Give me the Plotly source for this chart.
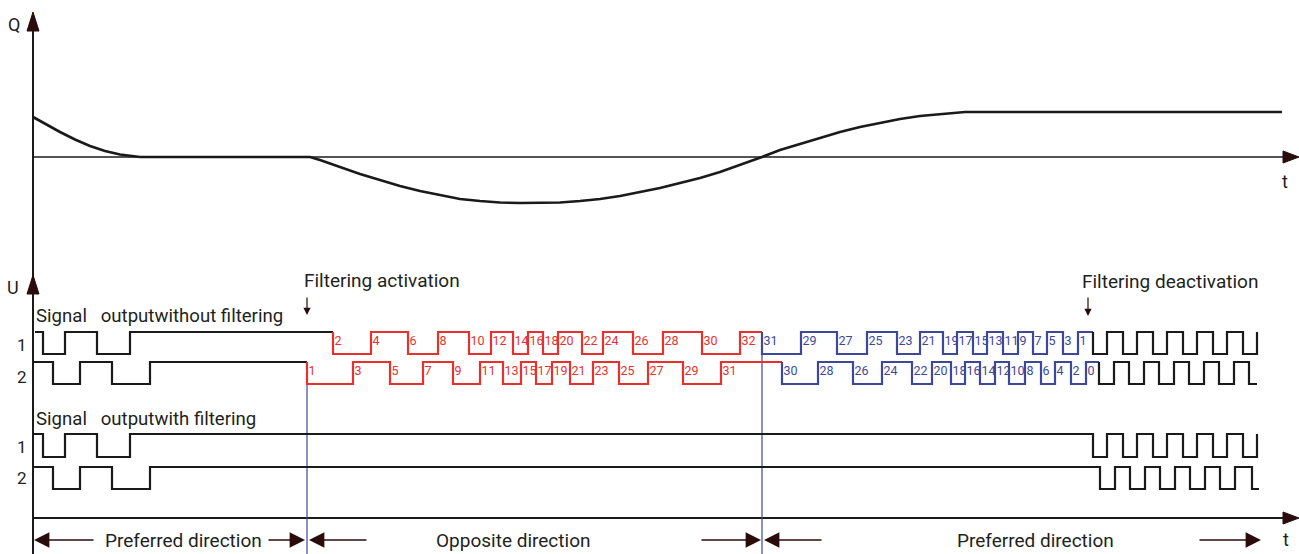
import plotly.graph_objects as go

# ---------------- data ----------------
# Q curve: time and value (positive = above the t axis)
q_time = [33, 45, 60, 75, 90, 105, 120, 140, 310, 320, 340, 360, 380, 400, 420, 440, 460,
          480, 500, 520, 540, 560, 580, 600, 620, 640, 660, 680, 700, 720, 740, 762,
          780, 800, 820, 840, 860, 880, 900, 920, 940, 965, 1282]
q_value = [40, 33, 25, 17.5, 11, 6, 2.5, 0, 0, -3, -10, -17, -23, -29, -34, -38, -42,
           -44, -45.5, -46, -46, -45.5, -44, -42, -39, -35, -31, -26, -21, -15, -8, 0,
           7, 13, 19, 25, 30, 34, 38, 41, 43, 45, 45]

# channel 1 / channel 2 edges (time of edge, level after edge)
pre_ch1_t = [43, 65, 97, 130]
pre_ch1_lv = [0, 1, 0, 1]
pre_ch2_t = [53, 80, 112, 150]
pre_ch2_lv = [0, 1, 0, 1]

opp_ch1_t = [333, 371, 408, 438, 469, 491, 513, 528, 543, 558, 582, 603, 633, 663, 702, 740]
opp_ch1_lv = [0, 1] * 8
opp_ch1_lbl = [2, 4, 6, 8, 10, 12, 14, 16, 18, 20, 22, 24, 26, 28, 30, 32]
opp_ch2_t = [307, 353, 390, 423, 453, 480, 503, 521, 536, 552, 570, 593, 619, 648, 683, 721]
opp_ch2_lv = [0, 1] * 8
opp_ch2_lbl = [1, 3, 5, 7, 9, 11, 13, 15, 17, 19, 21, 23, 25, 27, 29, 31]

ret_ch1_t = [762, 801, 837, 867, 897, 920, 943, 957, 973, 987, 1003, 1018, 1033, 1047, 1063, 1078]
ret_ch1_lv = [0, 1] * 8
ret_ch1_lbl = [31, 29, 27, 25, 23, 21, 19, 17, 15, 13, 11, 9, 7, 5, 3, 1]
ret_ch2_t = [782, 818, 853, 882, 912, 932, 951, 965, 980, 995, 1009, 1025, 1041, 1055, 1071, 1086]
ret_ch2_lv = [0, 1] * 8
ret_ch2_lbl = [30, 28, 26, 24, 22, 20, 18, 16, 14, 12, 10, 8, 6, 4, 2, 0]

post_ch1_t = [1093, 1107, 1123, 1137, 1153, 1167, 1183, 1197, 1213, 1227, 1243, 1257]
post_ch1_lv = [0, 1] * 6
post_ch2_t = [1099, 1114, 1129, 1144, 1159, 1174, 1189, 1204, 1219, 1234, 1249]
post_ch2_lv = [0, 1, 0, 1, 0, 1, 0, 1, 0, 1, 0]
postf_ch2_t = [1100, 1115, 1130, 1145, 1160, 1175, 1190, 1205, 1220, 1235, 1252]

reversal_times = [307, 762]
activation_times = [307, 1088]

# ---------------- layout constants ----------------
BLACK = "#1a1a1a"
DARK = "#2a0c0c"
RED = "#e8302e"
BLUE = "#3d4899"
FONT = "Roboto, 'Noto Sans', sans-serif"
Q_ZERO = 157
ROWS = {  # (high y, low y)
    "nf1": (332, 354),
    "nf2": (362, 384),
    "f1": (434, 457),
    "f2": (467, 489),
}

fig = go.Figure()


def lv_to_y(row, lv):
    hi, lo = ROWS[row]
    return [lo - v * (lo - hi) for v in lv]


def step(row, start_t, start_lv, edges_t, edges_lv, end_t, color, width=2.2):
    xs = [start_t] + list(edges_t) + [end_t]
    lv = [start_lv] + list(edges_lv) + [edges_lv[-1]]
    fig.add_trace(go.Scatter(x=xs, y=lv_to_y(row, lv), mode="lines",
                             line=dict(color=color, width=width, shape="hv"),
                             hoverinfo="skip", showlegend=False))


def labels(row, edges_t, lbl, color):
    hi, lo = ROWS[row]
    fig.add_trace(go.Scatter(x=[t + 1.5 for t in edges_t], y=[(hi + lo) / 2 - 1] * len(edges_t),
                             mode="text", text=[str(v) for v in lbl],
                             textposition="middle right",
                             textfont=dict(family=FONT, size=12.5, color=color),
                             hoverinfo="skip", showlegend=False))


# Q curve
fig.add_trace(go.Scatter(x=q_time, y=[Q_ZERO - v for v in q_value], mode="lines",
                         line=dict(color=BLACK, width=2.6, shape="linear"),
                         hoverinfo="skip", showlegend=False))

# axes lines
fig.add_trace(go.Scatter(x=[33, 33], y=[20, 554], mode="lines",
                         line=dict(color=BLACK, width=2), hoverinfo="skip", showlegend=False))
fig.add_trace(go.Scatter(x=[33, 1286], y=[Q_ZERO, Q_ZERO], mode="lines",
                         line=dict(color=BLACK, width=1.5), hoverinfo="skip", showlegend=False))
fig.add_trace(go.Scatter(x=[33, 1286], y=[518, 518], mode="lines",
                         line=dict(color=BLACK, width=1.8), hoverinfo="skip", showlegend=False))

# reversal lines
fig.add_trace(go.Scatter(x=[reversal_times[0]] * 2, y=[384, 554], mode="lines",
                         line=dict(color=BLUE, width=1.2), hoverinfo="skip", showlegend=False))
fig.add_trace(go.Scatter(x=[reversal_times[1]] * 2, y=[332, 554], mode="lines",
                         line=dict(color=BLUE, width=1.2), hoverinfo="skip", showlegend=False))

# signals without filtering
step("nf1", 35, 1, pre_ch1_t, pre_ch1_lv, opp_ch1_t[0], BLACK)
step("nf1", opp_ch1_t[0], 1, opp_ch1_t, opp_ch1_lv, ret_ch1_t[0], RED)
step("nf1", ret_ch1_t[0], 1, ret_ch1_t, ret_ch1_lv, post_ch1_t[0], BLUE)
step("nf1", post_ch1_t[0], 1, post_ch1_t, post_ch1_lv, post_ch1_t[-1], BLACK)

step("nf2", 33, 1, pre_ch2_t, pre_ch2_lv, opp_ch2_t[0], BLACK)
step("nf2", opp_ch2_t[0], 1, opp_ch2_t, opp_ch2_lv, ret_ch2_t[0], RED)
step("nf2", ret_ch2_t[0], 1, ret_ch2_t, ret_ch2_lv, post_ch2_t[0], BLUE)
step("nf2", post_ch2_t[0], 1, post_ch2_t, post_ch2_lv, 1257, BLACK)

labels("nf1", opp_ch1_t, opp_ch1_lbl, RED)
labels("nf2", opp_ch2_t, opp_ch2_lbl, RED)
labels("nf1", ret_ch1_t, ret_ch1_lbl, BLUE)
labels("nf2", ret_ch2_t, ret_ch2_lbl, BLUE)

# signals with filtering
step("f1", 33, 1, pre_ch1_t + post_ch1_t, pre_ch1_lv + post_ch1_lv, post_ch1_t[-1], BLACK)
step("f2", 33, 1, pre_ch2_t + postf_ch2_t, pre_ch2_lv + post_ch2_lv, 1259, BLACK)

# axis arrowheads (filled triangles)
for xs, ys in [([33, 27, 39, 33], [12, 31, 31, 12]),
               ([33, 27, 39, 33], [275, 294, 294, 275]),
               ([1299, 1283, 1283, 1299], [Q_ZERO, Q_ZERO - 6, Q_ZERO + 6, Q_ZERO]),
               ([1299, 1283, 1283, 1299], [518, 512, 524, 518])]:
    fig.add_trace(go.Scatter(x=xs, y=ys, mode="lines", fill="toself", fillcolor=DARK,
                             line=dict(color=DARK, width=1), hoverinfo="skip", showlegend=False))

annotations = []


def txt(x, y, s, size=19, xanchor="left", color="#231f20"):
    annotations.append(dict(x=x, y=y, text=s, showarrow=False, xanchor=xanchor, yanchor="middle",
                            font=dict(family=FONT, size=size, color=color)))


def arrow(x0, y0, x1, y1, size=1.0, width=1.5):
    annotations.append(dict(x=x1, y=y1, ax=x0, ay=y0, axref="x", ayref="y", xref="x", yref="y",
                            text="", showarrow=True, arrowhead=2, arrowsize=size,
                            arrowwidth=width, arrowcolor=DARK))


txt(14, 24, "Q", size=18, xanchor="center")
txt(13, 287, "U", size=18, xanchor="center")
txt(1285, 181, "t", size=18, xanchor="center")
txt(1286, 539, "t", size=18, xanchor="center")
txt(302, 280, "Filtering activation")
txt(1080, 281, "Filtering deactivation")
txt(34, 316, "Signal\u00a0\u00a0 outputwithout filtering", size=18.6)
txt(34, 419, "Signal\u00a0\u00a0 outputwith filtering", size=18.6)
txt(22, 345, "1", size=17, xanchor="center")
txt(22, 377, "2", size=17, xanchor="center")
txt(22, 447, "1", size=17, xanchor="center")
txt(22, 478, "2", size=17, xanchor="center")
txt(183, 540, "Preferred direction", xanchor="center")
txt(513, 540, "Opposite direction", xanchor="center")
txt(1035, 540, "Preferred direction", xanchor="center")

arrow(activation_times[0], 296, activation_times[0], 315, size=1.2, width=1.2)
arrow(activation_times[1], 296, activation_times[1], 316, size=1.2, width=1.2)
arrow(95, 540, 34, 540, size=2.2, width=1.4)
arrow(267, 540, 305, 540, size=2.2, width=1.4)
arrow(368, 540, 309, 540, size=2.2, width=1.4)
arrow(700, 540, 761, 540, size=2.2, width=1.4)
arrow(823, 540, 764, 540, size=2.2, width=1.4)
arrow(1198, 540, 1261, 540, size=2.2, width=1.4)

fig.update_layout(
    width=1299, height=554, autosize=False,
    margin=dict(l=0, r=0, t=0, b=0, pad=0),
    paper_bgcolor="white", plot_bgcolor="white",
    xaxis=dict(range=[0, 1299], visible=False, fixedrange=True),
    yaxis=dict(range=[554, 0], visible=False, fixedrange=True),
    annotations=annotations,
    showlegend=False,
)

fig.write_html("out.html", config={"displayModeBar": False},
               post_script="document.body.style.margin='0';document.body.style.overflow='hidden';")
